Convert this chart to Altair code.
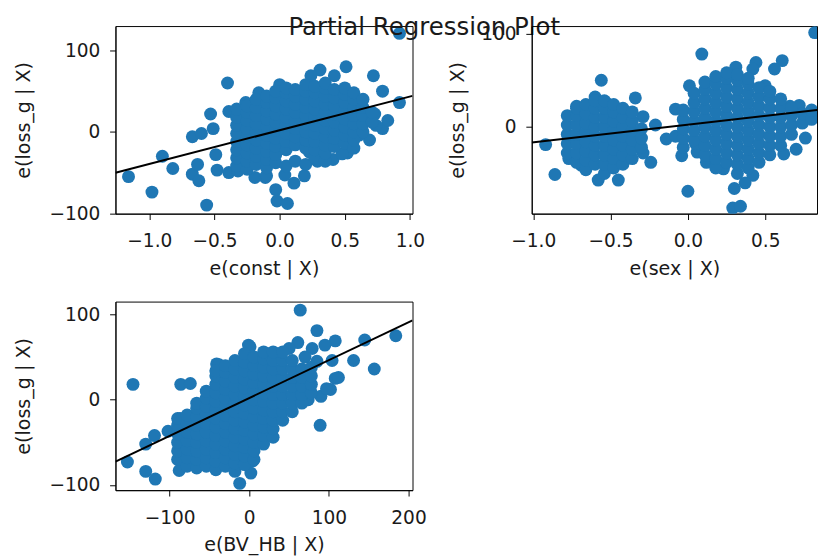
import altair as alt
import pandas as pd

TITLE = "Partial Regression Plot"
Y_TITLE = "e(loss_g | X)"
X_TITLES = ["e(const | X)", "e(sex | X)", "e(BV_HB | X)"]
BLUE = "#1f77b4"

# ---------------- Panel 1: e(const | X) ----------------
p1_out_x = [0.92, 0.72, 0.51, 0.31, 0.42, 0.24, -0.40, -1.16, -0.98, -0.90, -0.82, -0.56,
            -0.67, -0.60, -0.53, -0.39, -0.67, -0.62, -0.63, -0.48, -0.39, -0.32, -0.19,
            -0.11, -0.03, -0.02, 0.06, 0.11, 0.04, 0.19, 0.69, 0.79, 0.83, 0.79, 0.92,
            0.73, 0.52, 0.41, 0.29, 0.23, -0.51, -0.49, -0.26, -0.16, 0.74, 0.53, 0.48,
            0.61, -0.10, 0.00]
p1_out_y = [121, 69, 80, 76, 69, 69, 60, -55, -74, -30, -45, -90,
            -6, -2, 22, 25, -52, -60, -40, -47, -50, -48, -56,
            -56, -71, -85, -88, -63, -53, -54, -10, 4, 14, 50, 36,
            22, -26, -34, -36, -25, 4, -28, 36, 48, 8, 28, -27,
            -4, -54, 58]
p1_core_x = [-0.33, -0.25, -0.18, -0.10, -0.03, 0.05, 0.12, 0.20, 0.27, 0.35, 0.42, 0.50,
             0.57, 0.64, 0.71]
p1_core_y = [
    [-42, -32, -22, -12, -2, 8, 18, 28],
    [-46, -36, -26, -16, -6, 4, 14, 24, 32],
    [-40, -30, -20, -10, 0, 10, 20, 30, 40],
    [-44, -34, -24, -14, -4, 6, 16, 26, 36, 44],
    [-38, -28, -18, -8, 2, 12, 22, 32, 42, 50],
    [-42, -22, -12, -2, 8, 18, 28, 38, 48, 54],
    [-36, -16, -6, 4, 14, 24, 34, 44, 52],
    [-40, -20, -10, 0, 10, 20, 30, 40, 50, 58],
    [-32, -22, -12, -2, 8, 18, 28, 38, 48, 56],
    [-36, -26, -16, -6, 4, 14, 24, 34, 44, 54, 60],
    [-18, -8, 2, 12, 22, 32, 42, 52],
    [-14, -4, 6, 16, 26, 36, 46, 54],
    [-20, -10, 0, 10, 20, 30, 40, 48],
    [0, 10, 20, 30, 40],
    [12, 24],
]
p1_fit = [2.0, 41.4]          # intercept, slope
p1_xdom = [-1.26, 1.02]
p1_ydom = [-100.5, 130]
p1_xticks = [-1.0, -0.5, 0.0, 0.5, 1.0]

# ---------------- Panel 2: e(sex | X) ----------------
p2_out_x = [0.82, 0.09, -0.56, -0.92, -0.86, -0.58, -0.45, -0.34, -0.29, -0.21, -0.14, -0.24,
            0.00, 0.01, -0.08, -0.08, 0.61, 0.56, 0.44, 0.31, 0.82, 0.76, 0.70, 0.62,
            0.29, 0.34, 0.30, 0.42, 0.37, 0.23, 0.06, 0.05, -0.72, -0.60, -0.77, -0.69,
            -0.29, 0.42, 0.50, 0.72, 0.66, -0.04, 0.12, -0.53, -0.48]
p2_out_y = [101, 78, 50, -19, -51, -57, -57, 31, 11, 2, -13, -38,
            -69, 44, 19, -10, 71, 62, 69, 64, 11, -12, -24, -29,
            -87, -85, -66, -52, -60, -45, -27, -18, 22, 32, -34, -41,
            -28, 62, 44, 23, 22, -31, -38, 26, 20]
p2_core_x = [-0.78, -0.72, -0.66, -0.60, -0.54, -0.48, -0.42, -0.36, -0.30,
             -0.03, 0.04, 0.11, 0.18, 0.25, 0.32, 0.39, 0.46, 0.53, 0.60, 0.67, 0.74, 0.80]
p2_core_y = [
    [-28, -18, -8, 2, 12],
    [-38, -28, -18, -8, 2, 12, 20],
    [-46, -36, -26, -16, -6, 4, 14, 24],
    [-40, -30, -20, -10, 0, 10, 20, 28],
    [-50, -40, -30, -20, -10, 0, 10, 20, 28],
    [-44, -34, -24, -14, -4, 6, 16, 24],
    [-40, -30, -20, -10, 0, 10, 20],
    [-34, -24, -14, -4, 6, 16],
    [-22, -12, -2],
    [-22, -12, -2, 8, 18],
    [-14, -4, 6, 16, 26, 36],
    [-30, -20, -10, 0, 10, 20, 30, 40, 48],
    [-44, -34, -24, -14, -4, 6, 16, 26, 36, 46, 54],
    [-38, -28, -18, -8, 2, 12, 22, 32, 42, 52, 58],
    [-50, -40, -30, -20, -10, 0, 10, 20, 30, 40, 50, 56],
    [-44, -34, -24, -14, -4, 6, 16, 26, 36, 46, 52],
    [-38, -28, -18, -8, 2, 12, 22, 32, 42],
    [-30, -20, -10, 0, 10, 20, 30, 38],
    [-20, -10, 0, 10, 20, 30],
    [-8, 2, 12, 20],
    [4, 14],
    [8, 18],
]
p2_fit = [2.3, 18.9]
p2_xdom = [-1.01, 0.835]
p2_ydom = [-93, 108]
p2_xticks = [-1.0, -0.5, 0.0, 0.5]

# ---------------- Panel 3: e(BV_HB | X) ----------------
p3_out_x = [-146, -153, -130, -118, -130, -119, -102, -88, -86, -74, -41, -12, 2, 4, -1,
            64, 61, 85, 108, 145, 184, 157, 131, 89, 90, 108, 102, 104, 74, 64, 26,
            112, 97, 95, 79, 70, 85, 50, -87, -89, -38, 1]
p3_out_y = [18, -73, -84, -93, -52, -42, -37, -83, 18, 19, 42, -98, -86, -72, 64,
            105, 67, 81, 69, 70, 75, 36, 46, -30, 4, 25, 12, 46, 0, 17, -39,
            26, 13, 64, 60, 50, 45, 60, -22, -27, 41, 62]
p3_core_x = [-90, -78, -66, -54, -42, -30, -18, -6, 6, 18, 30, 42, 54, 66, 78]
p3_core_y = [
    [-70, -60, -50, -40, -30, -22],
    [-78, -68, -58, -48, -38, -28, -18],
    [-80, -70, -60, -50, -40, -30, -20, -10, -4],
    [-78, -68, -58, -48, -38, -28, -18, -8, 2, 10],
    [-82, -72, -62, -52, -42, -32, -22, -12, -2, 8, 18, 28, 34],
    [-78, -68, -58, -48, -38, -28, -18, -8, 2, 12, 22, 32, 40],
    [-84, -74, -64, -54, -44, -34, -24, -14, -4, 6, 16, 26, 36, 46],
    [-76, -66, -56, -46, -36, -26, -16, -6, 4, 14, 24, 34, 44, 54],
    [-70, -60, -50, -40, -30, -20, -10, 0, 10, 20, 30, 40, 50],
    [-52, -42, -32, -22, -12, -2, 8, 18, 28, 38, 48, 56],
    [-44, -34, -24, -14, -4, 6, 16, 26, 36, 46, 56],
    [-24, -14, -4, 6, 16, 26, 36, 46, 56],
    [-14, -4, 6, 16, 26, 36, 46],
    [-4, 6, 16, 26, 36],
    [8, 18, 28, 38],
]
p3_fit = [2.0, 0.444]
p3_xdom = [-168, 205]
p3_ydom = [-106, 115]
p3_xticks = [-100, 0, 100, 200]

Y_TICKS = [-100, 0, 100]


def build_points(ox, oy, cx, cy):
    xs = list(ox)
    ys = list(oy)
    for c, col in zip(cx, cy):
        xs += [c] * len(col)
        ys += list(col)
    return pd.DataFrame({"x": xs, "y": ys})


def panel(df, fit, xdom, ydom, xticks, xfmt, xtitle, w, h, ytitle_x, extra=None):
    line_df = pd.DataFrame({"x": xdom, "y": [fit[0] + fit[1] * v for v in xdom]})
    xs = alt.Scale(domain=xdom, nice=False, zero=False)
    ys = alt.Scale(domain=ydom, nice=False, zero=False)
    xax = alt.Axis(values=xticks, format=xfmt, title=xtitle)
    yax = alt.Axis(values=Y_TICKS, format="d", title=Y_TITLE,
                   titleX=ytitle_x, titleY=h / 2, titleAngle=270,
                   titleAlign="center", titleBaseline="bottom")
    pts = alt.Chart(df).mark_circle(size=175, opacity=1, color=BLUE, clip=True).encode(
        x=alt.X("x:Q", scale=xs, axis=xax),
        y=alt.Y("y:Q", scale=ys, axis=yax),
    )
    ln = alt.Chart(line_df).mark_line(color="black", strokeWidth=2, clip=True).encode(
        x=alt.X("x:Q", scale=xs),
        y=alt.Y("y:Q", scale=ys),
    )
    layers = [pts, ln]
    if extra is not None:
        layers.append(extra)
    return alt.layer(*layers).properties(width=w, height=h)


title_mark = alt.Chart(pd.DataFrame({"t": [TITLE]})).mark_text(
    font="DejaVu Sans", fontSize=25, color="#1a1a1a", align="center", baseline="alphabetic"
).encode(x=alt.value(316), y=alt.value(9), text="t:N")

c1 = panel(build_points(p1_out_x, p1_out_y, p1_core_x, p1_core_y), p1_fit, p1_xdom, p1_ydom,
           p1_xticks, ".1f", X_TITLES[0], 304, 192, -84, extra=title_mark)
c2 = panel(build_points(p2_out_x, p2_out_y, p2_core_x, p2_core_y), p2_fit, p2_xdom, p2_ydom,
           p2_xticks, ".1f", X_TITLES[1], 292, 192, -66)
c3 = panel(build_points(p3_out_x, p3_out_y, p3_core_x, p3_core_y), p3_fit, p3_xdom, p3_ydom,
           p3_xticks, "d", X_TITLES[2], 304, 193, -84)

top = alt.hconcat(c1, c2, spacing=122, bounds="flush")
chart = alt.vconcat(top, c3, spacing=282, bounds="flush").properties(
    padding={"left": 5, "top": 0, "right": 0, "bottom": 0}
).configure_view(
    stroke="black", strokeWidth=1
).configure_axis(
    grid=False,
    domainColor="black",
    tickColor="black",
    tickSize=6,
    labelFont="DejaVu Sans",
    labelFontSize=19,
    labelColor="#1a1a1a",
    titleFont="DejaVu Sans",
    titleFontSize=19.5,
    titleFontWeight="normal",
    titleColor="#1a1a1a",
    labelOverlap=False,
    labelFlush=False,
).configure_axisX(
    labelPadding=13, titlePadding=9
).configure_axisY(
    labelPadding=10
)

chart.save("out.html", embed_options={"renderer": "svg", "actions": False})
